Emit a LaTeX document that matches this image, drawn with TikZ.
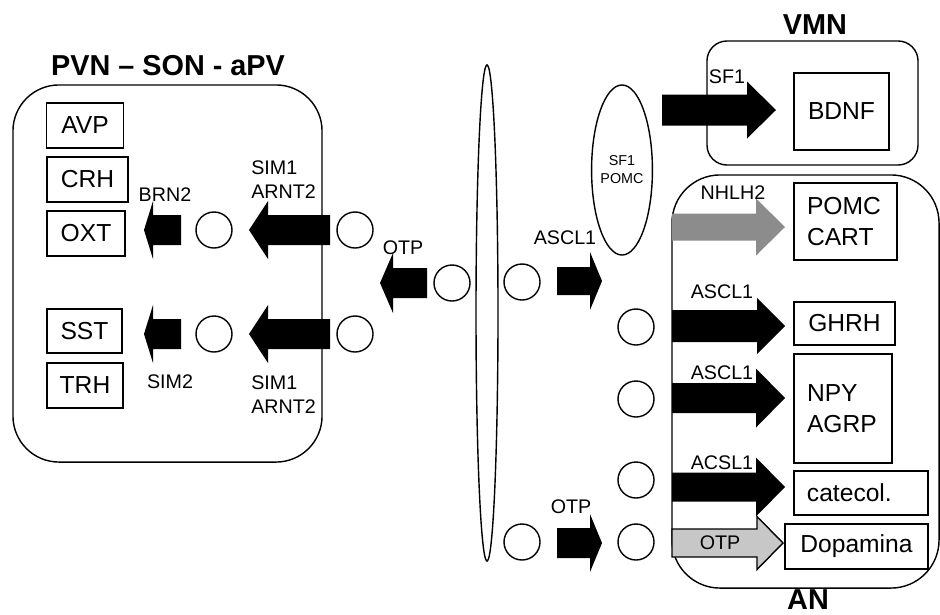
\documentclass[tikz,border=0pt]{standalone}
\usepackage{fontspec}
\setmainfont{Liberation Sans}
\usepackage{tikz}
\usetikzlibrary{shapes.geometric, positioning}

\begin{document}
\begin{tikzpicture}[
    x=0.025cm, y=-0.025cm,
    region/.style={rectangle, draw=black, line width=1pt, rounded corners=1.15cm, inner sep=0pt},
    gene/.style={rectangle, draw=black, fill=white, line width=1pt, minimum height=1.125cm, inner sep=0pt, font=\fontsize{17.5}{22}\selectfont},
    genel/.style={gene, align=left, inner xsep=0.325cm},
    cell/.style={circle, draw=black, fill=white, line width=1pt, minimum size=0.9cm, inner sep=0pt},
    tf/.style={font=\fontsize{14}{17}\selectfont, inner sep=0pt},
    title/.style={font=\fontsize{20.5}{24}\selectfont\bfseries, inner sep=0pt},
    blk/.style={fill=black},
    pics/barr/.style args={#1/#2/#3/#4}{code={
        \path[pic actions] (0,#2) -- (#1-#4,#2) -- (#1-#4,#3) -- (#1,0)
            -- (#1-#4,-#3) -- (#1-#4,-#2) -- (0,-#2) -- cycle;
    }}
]
\useasboundingbox (0,0) rectangle (940,614);

% regions
\node[region, minimum width=7.725cm, minimum height=9.425cm] (pvn) at (167.5,273.5) {};
\node[region, rounded corners=0.5cm, minimum width=5.275cm, minimum height=3.1cm] (vmn) at (812.5,103) {};
\node[region, rounded corners=1.2cm, minimum width=6.675cm, minimum height=10.325cm] (an) at (805.5,381.5) {};
\node[title] (pvnt) at (168,66) {PVN – SON - aPV};
\node[title] (vmnt) at (815,25) {VMN};
\node[title] (ant) at (808,600) {AN};

% ellipses
\node[draw, ellipse, line width=1pt, minimum width=0.55cm, minimum height=12.4cm, inner sep=0pt] (axis) at (487,313) {};
\node[draw, ellipse, line width=1pt, minimum width=1.5cm, minimum height=4.25cm, inner sep=0pt, align=center, font=\fontsize{10.2}{12.8}\selectfont] (sf1) at (622,170) {SF1\\POMC};

% block arrows
\pic[blk, rotate=180] at (181,230) {barr=37/15/29/9};
\pic[blk, rotate=180] at (330,230) {barr=81/15/29/19};
\pic[blk, rotate=180] at (181,334) {barr=37/15/29/9};
\pic[blk, rotate=180] at (330,334) {barr=81/15/29/19};
\pic[blk, rotate=180] at (427,283) {barr=47/15/30/13};
\pic[blk] at (557,281) {barr=45/14/29/12};
\pic[blk] at (557,543) {barr=45/15/29/12};
\pic[blk] at (662,110) {barr=114/15.5/28.5/29};
\pic[fill=black!45] at (672,227) {barr=113/13.5/28.5/29};
\pic[blk] at (672,326) {barr=113/16/28/28};
\pic[blk] at (672,398) {barr=113/15/29.5/29};
\pic[blk] at (672,487) {barr=113/14.5/29.5/29};
\pic[draw=black, fill=black!22, line width=1pt] at (672,543) {barr=111/14/26.5/26};

% cells
\node[cell] (c1) at (214,230) {};
\node[cell] (c2) at (355,230) {};
\node[cell] (c3) at (214,334) {};
\node[cell] (c4) at (355,334) {};
\node[cell] (c5) at (452,283) {};
\node[cell] (c6) at (522,282) {};
\node[cell] (c7) at (522,542) {};
\node[cell] (c8) at (636,327) {};
\node[cell] (c9) at (636,399) {};
\node[cell] (c10) at (636,480) {};
\node[cell] (c11) at (636,542) {};

% genes
\node[gene, minimum width=1.925cm] (avp) at (85,125.5) {AVP};
\node[gene, minimum width=2.025cm] (crh) at (87.5,179.5) {CRH};
\node[gene, minimum width=1.95cm] (oxt) at (86,233.5) {OXT};
\node[gene, minimum width=1.875cm, minimum height=1.1cm] (sst) at (84.5,331) {SST};
\node[gene, minimum width=1.9cm] (trh) at (85,385.5) {TRH};
\node[gene, minimum width=2.375cm, minimum height=1.925cm] (bdnf) at (841.5,111.5) {BDNF};
\node[genel, text width=1.925cm, minimum height=1.925cm] (pomc) at (845.5,221.5) {POMC\\CART};
\node[gene, minimum width=2.525cm, minimum height=1.075cm] (ghrh) at (844.5,323.5) {GHRH};
\node[genel, text width=1.8cm, minimum height=2.725cm] (npy) at (843,408.5) {NPY\\AGRP};
\node[genel, text width=2.7cm, minimum height=1.1cm] (cat) at (861,493) {catecol.};
\node[gene, minimum width=3.575cm] (dopa) at (856.5,546.5) {Dopamina};

% labels
\node[tf, align=left, anchor=west] (sim1u) at (251,180) {SIM1\\ARNT2};
\node[tf] (brn2) at (165,195) {BRN2};
\node[tf] (sim2) at (170,382) {SIM2};
\node[tf, align=left, anchor=west] (sim1l) at (251,395) {SIM1\\ARNT2};
\node[tf] (otpl) at (403,248) {OTP};
\node[tf] (ascl1m) at (565,238) {ASCL1};
\node[tf] (otpm) at (571,507) {OTP};
\node[tf] (sf1l) at (727,77) {SF1};
\node[tf] (nhlh2) at (733,193) {NHLH2};
\node[tf] (ascl1a) at (722,292) {ASCL1};
\node[tf] (ascl1b) at (722,373) {ASCL1};
\node[tf] (acsl1) at (722,463) {ACSL1};
\node[tf] (otpa) at (720,543) {OTP};
\end{tikzpicture}
\end{document}
